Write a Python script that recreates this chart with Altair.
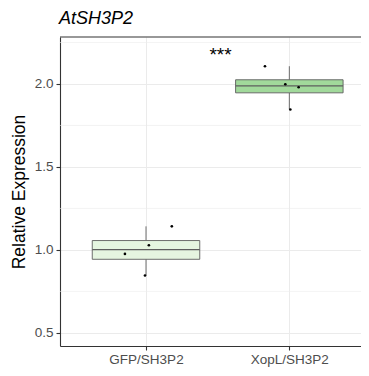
import json
import altair as alt
import pandas as pd

# ---- data ----
categories = ["GFP/SH3P2", "XopL/SH3P2"]
groups = ["GFP/SH3P2"] * 4 + ["XopL/SH3P2"] * 4
values = [0.846, 0.976, 1.028, 1.142, 1.846, 1.980, 1.998, 2.107]
jitter = [-0.007, -0.147, 0.020, 0.180, 0.007, 0.065, -0.028, -0.170]
fills = ["#E5F5E0", "#A1D99B"]
major_y = [0.5, 1.0, 1.5, 2.0]
minor_y = [0.75, 1.25, 1.75, 2.25]
sig_label = ["***"]
sig_x = [1.52]
sig_y = [2.14]
title_text = ["AtSH3P2"]

FONT = "Liberation Sans"
DARK = "#333333"
GRID = "#EBEBEB"
BOX_LINE = "#5E5E5E"

W, H = 301, 309

df = pd.DataFrame({"group": groups, "value": values, "jitter": jitter})
pos_expr = f"indexof({json.dumps(categories)}, datum.group) + 1"

xscale = alt.Scale(domain=[0.4, 2.5], nice=False, zero=False)
yscale = alt.Scale(domain=[0.421, 2.283], nice=False, zero=False)

label_expr = f"{json.dumps(categories)}[datum.value - 1]"
xaxis = alt.Axis(values=[1, 2], labelExpr=label_expr, title=None, grid=True,
                 gridColor=GRID, gridWidth=1, labelPadding=2)
yaxis = alt.Axis(values=major_y, format=".1f", title="Relative Expression",
                 grid=True, gridColor=GRID, gridWidth=1,
                 titleX=-36, titleY=H / 2, titleAngle=-90,
                 titleBaseline="alphabetic", titleAlign="center")

base = alt.Chart(df).transform_calculate(pos=pos_expr)

minor = alt.Chart(pd.DataFrame({"v": minor_y})).mark_rule(
    color=GRID, strokeWidth=0.6
).encode(y=alt.Y("v:Q", scale=yscale, axis=yaxis))

stats = base.transform_aggregate(
    q1="q1(value)", med="median(value)", q3="q3(value)",
    lo="min(value)", hi="max(value)", groupby=["group", "pos"]
).transform_calculate(xa="datum.pos - 0.375", xb="datum.pos + 0.375")

whisk_lo = stats.mark_rule(color=BOX_LINE, strokeWidth=0.9).encode(
    x=alt.X("pos:Q", scale=xscale, axis=xaxis),
    y=alt.Y("lo:Q", scale=yscale, axis=yaxis), y2="q1:Q")
whisk_hi = stats.mark_rule(color=BOX_LINE, strokeWidth=0.9).encode(
    x=alt.X("pos:Q", scale=xscale, axis=xaxis),
    y=alt.Y("q3:Q", scale=yscale, axis=yaxis), y2="hi:Q")

box = stats.mark_rect(stroke=BOX_LINE, strokeWidth=0.9).encode(
    x=alt.X("xa:Q", scale=xscale, axis=xaxis), x2="xb:Q",
    y=alt.Y("q1:Q", scale=yscale, axis=yaxis), y2="q3:Q",
    fill=alt.Fill("group:N", scale=alt.Scale(domain=categories, range=fills), legend=None))

median = stats.mark_rule(color=BOX_LINE, strokeWidth=1.2).encode(
    x=alt.X("xa:Q", scale=xscale, axis=xaxis), x2="xb:Q",
    y=alt.Y("med:Q", scale=yscale, axis=yaxis))

points = base.transform_calculate(px="datum.pos + datum.jitter").mark_circle(
    size=7, color="black", opacity=1
).encode(x=alt.X("px:Q", scale=xscale, axis=xaxis),
         y=alt.Y("value:Q", scale=yscale, axis=yaxis))

sig = alt.Chart(pd.DataFrame({"x": sig_x, "y": sig_y, "t": sig_label})).mark_text(
    font=FONT, fontSize=19, color="black", baseline="alphabetic", align="center"
).encode(x=alt.X("x:Q", scale=xscale, axis=xaxis),
         y=alt.Y("y:Q", scale=yscale, axis=yaxis), text="t:N")

top_border = alt.Chart(pd.DataFrame({"a": [0]})).mark_rule(
    color=DARK, strokeWidth=1.1
).encode(y=alt.value(0))

title = alt.Chart(pd.DataFrame({"t": title_text})).mark_text(
    font=FONT, fontSize=18, fontStyle="italic", color="black",
    align="left", baseline="alphabetic"
).encode(x=alt.value(-1), y=alt.value(-13), text="t:N")

chart = alt.layer(minor, whisk_lo, whisk_hi, box, median, points, sig, top_border, title).properties(
    width=W, height=H,
    autosize=alt.AutoSizeParams(type="none"),
    padding={"left": 52, "top": 29, "right": 0, "bottom": 21},
).configure_view(stroke=None).configure_axis(
    labelFont=FONT, labelFontSize=13.5, labelColor="#4D4D4D",
    tickColor=DARK, tickSize=4, tickWidth=1.1,
    domainColor=DARK, domainWidth=1.1,
    titleFont=FONT, titleFontSize=17.5, titleColor="black", titleFontWeight="normal",
).configure_axisY(labelPadding=3)

chart.save("out.html", embed_options={"renderer": "svg", "actions": False})
